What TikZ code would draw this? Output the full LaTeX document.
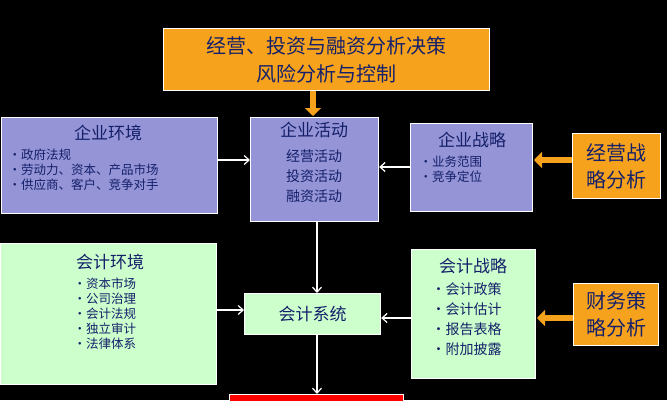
\documentclass[tikz,border=0pt]{standalone}
\usepackage{fontspec}
\newfontfamily\cjk{Noto Sans CJK SC}
\usetikzlibrary{arrows.meta}
\definecolor{navy}{HTML}{14206A}
\definecolor{lav}{HTML}{9494D6}
\definecolor{lgreen}{HTML}{CCFFCC}
\definecolor{org}{HTML}{F7A21C}
\tikzset{
 box/.style={draw=white,line width=1.2pt,inner sep=0pt,anchor=north west},
 wa/.style={draw=white,line width=1.2pt,-{Straight Barb[length=5pt,width=9pt]}},
 oa/.style={draw=org,line width=6pt,-{Triangle[length=8pt,width=16pt]}},
 tt/.style={font=\cjk\fontsize{17}{19}\selectfont,text=navy,align=center},
 bl/.style={font=\cjk\fontsize{12.5}{15}\selectfont,text=navy,align=left},
}
\begin{document}
\begin{tikzpicture}[x=1pt,y=-1pt]
\fill[black] (0,0) rectangle (667,400);
\useasboundingbox (0,0) rectangle (667,400);
% top
\node[box,fill=org,minimum width=326pt,minimum height=62pt] (top) at (163,28) {};
\node[tt,font=\cjk\fontsize{20}{28}\selectfont,text=navy] at (top.center) {经营、投资与融资分析决策\\风险分析与控制};
% enterprise env
\node[box,fill=lav,minimum width=216pt,minimum height=96pt] (ee) at (1,117) {};
\node[tt] at (108,133) {企业环境};
\node[bl,anchor=north west] at (5,145) {•政府法规\\•劳动力、资本、产品市场\\•供应商、客户、竞争对手};
% activity
\node[box,fill=lav,minimum width=128pt,minimum height=104pt] (ea) at (250,117) {};
\node[tt,anchor=north] at (314,119) {企业活动};
\node[tt,font=\cjk\fontsize{14}{20}\selectfont,anchor=north] at (314,146) {经营活动\\投资活动\\融资活动};
% strategy
\node[box,fill=lav,minimum width=122pt,minimum height=88pt] (es) at (410,123) {};
\node[tt] at (472,140) {企业战略};
\node[bl,anchor=north west] at (416,152) {•业务范围\\•竞争定位};
\node[box,fill=org,minimum width=88pt,minimum height=65pt] (o1) at (572,133) {};
\node[tt,font=\cjk\fontsize{20}{27}\selectfont,text=navy] at (o1.center) {经营战\\略分析};
% accounting env
\node[box,fill=lgreen,minimum width=216pt,minimum height=141pt] (ae) at (0,243) {};
\node[tt] at (110,262) {会计环境};
\node[bl,anchor=north west] at (70,274) {•资本市场\\•公司治理\\•会计法规\\•独立审计\\•法律体系};
% system
\node[box,fill=lgreen,minimum width=136pt,minimum height=41pt] (as) at (244,293) {};
\node[tt] at (as.center) {会计系统};
% acc strategy
\node[box,fill=lgreen,minimum width=124pt,minimum height=129pt] (ast) at (411,249) {};
\node[tt] at (473,266) {会计战略};
\node[bl,font=\cjk\fontsize{14}{20}\selectfont,anchor=north west] at (428,279) {•会计政策\\•会计估计\\•报告表格\\•附加披露};
\node[box,fill=org,minimum width=85pt,minimum height=62pt] (o2) at (573,283) {};
\node[tt,font=\cjk\fontsize{20}{27}\selectfont,text=navy] at (o2.center) {财务策\\略分析};
% red
\node[box,fill=red,minimum width=174pt,minimum height=20pt] (red) at (229,394) {};
% arrows
\coordinate (t1) at (313,90); \coordinate (t2) at (313,116);
\draw[oa] (top.south -| t1) -- (t2);
\draw[oa] (o1.west |- 0,160) -- (534,160);
\draw[oa] (o2.west |- 0,318) -- (537,318);
\draw[wa] (ee.east |- 0,160) -- (ea.west |- 0,160);
\draw[wa] (es.west |- 0,167) -- (ea.east |- 0,167);
\draw[wa] (ea.south -| 317,0) -- (as.north -| 317,0);
\draw[wa] (ae.east |- 0,310) -- (as.west |- 0,310);
\draw[wa] (ast.west |- 0,318) -- (as.east |- 0,318);
\draw[wa] (as.south -| 317,0) -- (red.north -| 317,0);
\end{tikzpicture}
\end{document}
